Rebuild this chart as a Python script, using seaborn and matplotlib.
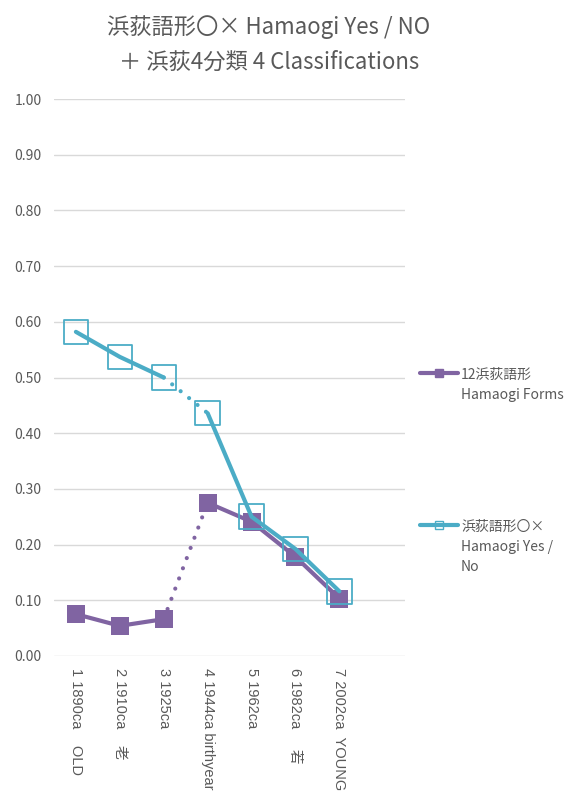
import pandas as pd
import seaborn as sns
import matplotlib.pyplot as plt
from matplotlib.lines import Line2D

# categories on the x axis (8th slot is empty in the original)
categories = [
    "1 1890ca    OLD",
    "2 1910ca    老",
    "3 1925ca",
    "4 1944ca birthyear",
    "5 1962ca",
    "6 1982ca     若",
    "7 2002ca  YOUNG",
    "",
]
# 12浜荻語形 Hamaogi Forms
forms = [0.075, 0.054, 0.066, 0.275, 0.241, 0.178, 0.103]
# 浜荻語形〇× Hamaogi Yes / No
yes_no = [0.582, 0.537, 0.500, 0.436, 0.250, 0.192, 0.116]

purple = "#8064A2"
cyan = "#4BACC6"
grey = "#595959"

sns.set_theme(style="white")
plt.rcParams["font.family"] = ["Noto Sans CJK JP", "DejaVu Sans"]

fig = plt.figure(figsize=(5.74, 7.96), dpi=100)
ax = fig.add_axes([0.094, 0.176, 0.612, 0.6995])

x = list(range(len(forms)))


def segments(values):
    # solid parts 1-3 and 4-7, dotted link between 3 and 4
    solid = pd.DataFrame({
        "x": x[:3] + x[3:],
        "value": values[:3] + values[3:],
        "seg": [0] * 3 + [1] * 4,
    })
    dotted = pd.DataFrame({"x": x[2:4], "value": values[2:4]})
    return solid, dotted


for values, color, z in [(forms, purple, 2), (yes_no, cyan, 5)]:
    solid, dotted = segments(values)
    sns.lineplot(data=solid, x="x", y="value", units="seg", estimator=None,
                 color=color, lw=3, solid_capstyle="round", zorder=z, ax=ax)
    sns.lineplot(data=dotted, x="x", y="value", estimator=None,
                 color=color, lw=3, linestyle=(0, (0.01, 2.6)),
                 dash_capstyle="round", zorder=z, ax=ax)

pts = pd.DataFrame({"x": x, "forms": forms, "yes_no": yes_no})
sns.scatterplot(data=pts, x="x", y="forms", marker="s", s=150, color=purple,
                edgecolor=purple, linewidth=0, zorder=3, ax=ax)
sns.scatterplot(data=pts, x="x", y="yes_no", marker="s", s=310,
                facecolor="none", edgecolor=cyan, linewidth=1.3, zorder=4, ax=ax)

ax.set_xlim(-0.5, len(categories) - 0.5)
ax.set_ylim(0, 1.0)
ax.set_yticks([i / 10 for i in range(11)])
ax.set_yticklabels([f"{i / 10:.2f}" for i in range(11)], color=grey, fontsize=10)
ax.set_xticks(range(len(categories)))
ax.set_xticklabels(categories, rotation=-90, color=grey, fontsize=10.5,
                   va="top", ha="center",
                   family=["Liberation Sans", "Noto Sans CJK JP"])
ax.tick_params(axis="both", length=0)
ax.tick_params(axis="y", pad=9)
ax.tick_params(axis="x", pad=9)
ax.set_xlabel("")
ax.set_ylabel("")
ax.grid(axis="y", color="#d9d9d9", lw=1)
ax.grid(axis="x", visible=False)
for s in ax.spines.values():
    s.set_visible(False)

fig.text(269 / 574, 1 - 27 / 796, "浜荻語形〇× Hamaogi Yes / NO", ha="center",
         va="center", fontsize=16, color=grey)
fig.text(269 / 574, 1 - 62 / 796, "＋ 浜荻4分類 4 Classifications", ha="center",
         va="center", fontsize=16, color=grey)

# legend drawn in figure pixels
W, H = 574, 796
entries = [
    (purple, dict(markerfacecolor=purple, markeredgecolor=purple, markersize=6),
     373, ["12浜荻語形", "Hamaogi Forms"]),
    (cyan, dict(markerfacecolor="none", markeredgecolor=cyan, markersize=6,
                markeredgewidth=1),
     525, ["浜荻語形〇×", "Hamaogi Yes /", "No"]),
]
for color, mk, ypix, lines in entries:
    fig.add_artist(Line2D([420 / W, 458 / W], [1 - ypix / H] * 2, color=color,
                          lw=3, transform=fig.transFigure))
    fig.add_artist(Line2D([439 / W], [1 - ypix / H], marker="s", lw=0,
                          transform=fig.transFigure, **mk))
    for i, t in enumerate(lines):
        fig.text(461 / W, 1 - (ypix + 2 + i * 20) / H, t, ha="left",
                 va="center", fontsize=10, color=grey)

fig.savefig("out.png", dpi=100)
